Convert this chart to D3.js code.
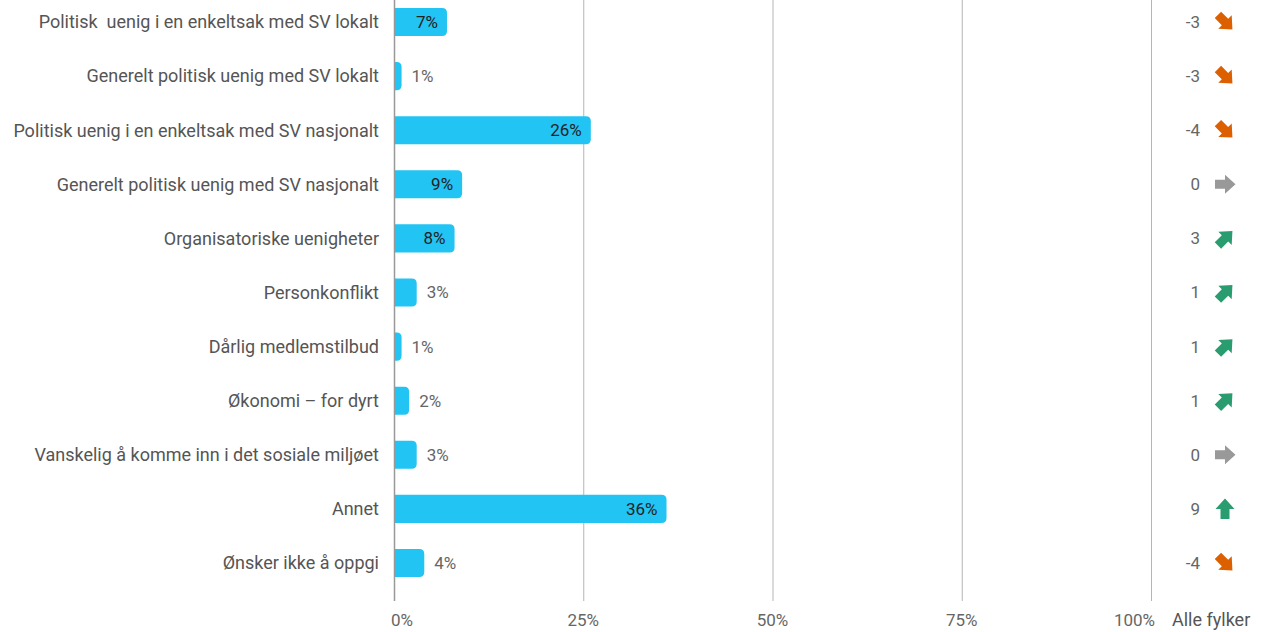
<!DOCTYPE html>
<html>
<head>
<meta charset="utf-8">
<script src="https://cdn.jsdelivr.net/npm/d3@7"></script>
<style>
  html, body { margin: 0; padding: 0; background: #fff; }
  svg { display: block; font-family: Roboto, "Noto Sans", sans-serif; }
  text { white-space: pre; }
</style>
</head>
<body>
<svg id="chart" width="1265" height="632"></svg>
<script>
const categories = [
  "Politisk  uenig i en enkeltsak med SV lokalt",
  "Generelt politisk uenig med SV lokalt",
  "Politisk uenig i en enkeltsak med SV nasjonalt",
  "Generelt politisk uenig med SV nasjonalt",
  "Organisatoriske uenigheter",
  "Personkonflikt",
  "Dårlig medlemstilbud",
  "Økonomi – for dyrt",
  "Vanskelig å komme inn i det sosiale miljøet",
  "Annet",
  "Ønsker ikke å oppgi"
];
const values = [7, 1, 26, 9, 8, 3, 1, 2, 3, 36, 4];
const changes = [-3, -3, -4, 0, 3, 1, 1, 1, 0, 9, -4];
const tickValues = [0, 25, 50, 75, 100];
const tickLabels = ["0%", "25%", "50%", "75%", "100%"];
const columnTitle = "Alle fylker";

const svg = d3.select("#chart");
const x = d3.scaleLinear().domain([0, 100]).range([394, 1151]);
const y = d3.scaleBand().domain(categories).range([-5.05, 590.05]).paddingInner(0.48).paddingOuter(0.24);

// gridlines
svg.append("g").selectAll("line").data(tickValues).join("line")
  .attr("x1", d => x(d) + 0.5).attr("x2", d => x(d) + 0.5)
  .attr("y1", 0).attr("y2", 601)
  .attr("stroke", d => d === 0 ? "#999" : "#b5b5b5")
  .attr("stroke-width", d => d === 0 ? 1.5 : 1);

// axis tick labels
svg.append("g").selectAll("text").data(tickValues).join("text")
  .attr("x", (d, i) => i === 0 ? x(d) - 3 : (i === tickValues.length - 1 ? x(d) + 4 : x(d)))
  .attr("y", 626)
  .attr("text-anchor", (d, i) => i === 0 ? "start" : (i === tickValues.length - 1 ? "end" : "middle"))
  .attr("fill", "#666").attr("font-size", 17)
  .text((d, i) => tickLabels[i]);

svg.append("text").attr("x", 1172).attr("y", 626).attr("fill", "#555").attr("font-size", 18)
  .text(columnTitle);

// category labels
svg.append("g").selectAll("text").data(categories).join("text")
  .attr("x", 379).attr("y", d => y(d) + y.bandwidth() / 2)
  .attr("dy", "0.35em").attr("text-anchor", "end")
  .attr("fill", "#555").attr("font-size", 18)
  .attr("xml:space", "preserve")
  .text(d => d);

// bars with rounded right end
const r = 5;
function barPath(x0, x1, y0, h) {
  const w = x1 - x0;
  const rr = Math.min(r, w);
  return `M${x0},${y0}H${x1 - rr}Q${x1},${y0} ${x1},${y0 + rr}V${y0 + h - rr}Q${x1},${y0 + h} ${x1 - rr},${y0 + h}H${x0}Z`;
}
const rows = categories.map((c, i) => ({ c, v: values[i], ch: changes[i] }));
svg.append("g").selectAll("path").data(rows).join("path")
  .attr("d", d => barPath(x(0) + 1, x(d.v), y(d.c), y.bandwidth()))
  .attr("fill", "#22C4F3");

// value labels
svg.append("g").selectAll("text").data(rows).join("text")
  .attr("x", d => d.v >= 7 ? x(d.v) - 9 : x(d.v) + 10)
  .attr("y", d => y(d.c) + y.bandwidth() / 2)
  .attr("dy", "0.35em")
  .attr("text-anchor", d => d.v >= 7 ? "end" : "start")
  .attr("fill", d => d.v >= 7 ? "#222" : "#666")
  .attr("font-size", 17)
  .text(d => d.v + "%");

// change numbers
svg.append("g").selectAll("text").data(rows).join("text")
  .attr("x", 1200).attr("y", d => y(d.c) + y.bandwidth() / 2)
  .attr("dy", "0.35em").attr("text-anchor", "end")
  .attr("fill", "#666").attr("font-size", 17)
  .text(d => d.ch);

// arrows
const arrowShape = "M-10,-4.5H0V-9.5L10.5,0L0,9.5V4.5H-10Z";
function angle(v) { return v >= 5 ? -90 : v > 0 ? -45 : v === 0 ? 0 : v > -5 ? 45 : 90; }
function color(v) { return v > 0 ? "#2A9D70" : v === 0 ? "#999999" : "#DD6000"; }
svg.append("g").selectAll("path").data(rows).join("path")
  .attr("d", arrowShape)
  .attr("transform", d => `translate(1225,${y(d.c) + y.bandwidth() / 2}) rotate(${angle(d.ch)})`)
  .attr("fill", d => color(d.ch));
</script>
</body>
</html>
